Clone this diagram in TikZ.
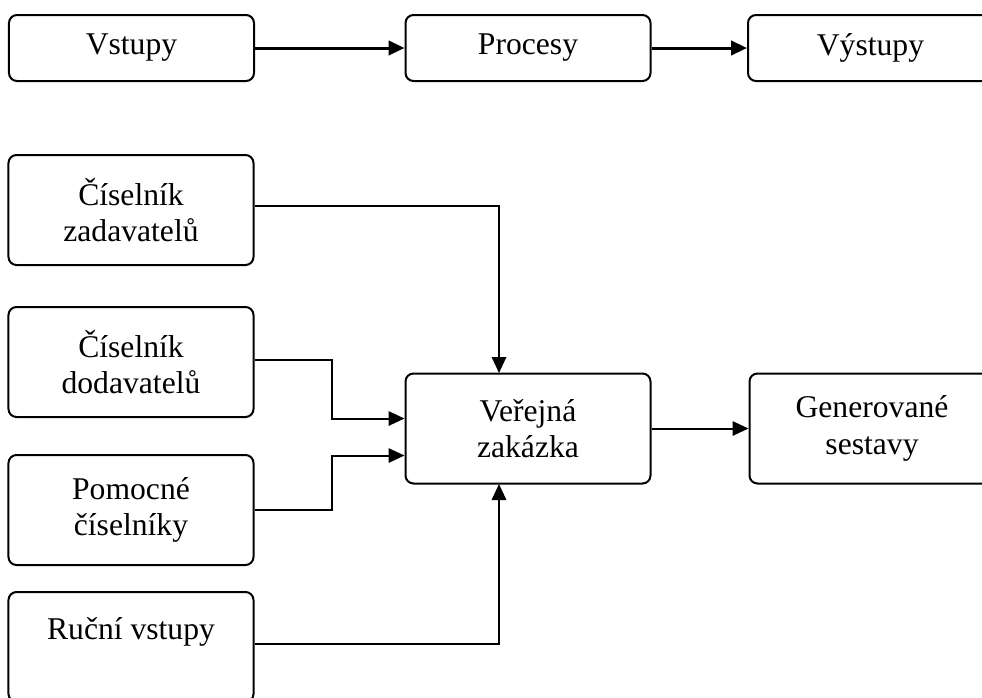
\documentclass[tikz,border=0pt]{standalone}
\usepackage{fontspec}
\setmainfont{Liberation Serif}
\usetikzlibrary{arrows.meta}

\begin{document}
\begin{tikzpicture}[x=0.25mm, y=-0.25mm,
		box/.style={draw, line width=0.5mm, rounded corners=2mm, inner sep=0pt,
			minimum width=61.25mm, align=center,
			font=\fontsize{22.5pt}{26pt}\selectfont},
		flatbox/.style={box, minimum height=16.5mm},
		tallbox/.style={box, minimum height=27.5mm},
		tip/.style={-{Triangle[length=4mm, width=3.6mm]}},
		link/.style={tip, line width=0.5mm},
		thicklink/.style={tip, line width=0.75mm}]
	\useasboundingbox (0, 0) rectangle (982, 697);
	\clip (0, 0) rectangle (982, 697);
	% horni rada
	\node[flatbox] (vstupy) at (131.5, 48){Vstupy};
	\node[flatbox] (procesy) at (528, 48){Procesy};
	\node[flatbox] (vystupy) at (870.5, 48){Výstupy};
	\draw[thicklink] (vstupy.east) -- (procesy.west);
	\draw[thicklink] (procesy.east) -- (vystupy.west);
	% vstupy do zakazky
	\node[tallbox] (zadavatele) at (131, 210){Číselník\\zadavatelů};
	\node[tallbox] (dodavatele) at (131, 362){Číselník\\dodavatelů};
	\node[tallbox] (pomocne) at (131, 510){Pomocné\\číselníky};
	\node[tallbox] (rucni) at (131, 647){Ruční vstupy\\\mbox{}};
	\node[tallbox] (zakazka) at (528, 428.5){Veřejná\\zakázka};
	\node[tallbox] (sestavy) at (872, 428.5){Generované\\sestavy};
		\coordinate (zakazkatop) at (499, 373);
		\coordinate (zakazkabot) at (499, 484);
	\draw[link] ([yshift=1mm]zadavatele.east) -| (zakazkatop);
	\draw[link] ([yshift=0.5mm]dodavatele.east) -- ++(77, 0) |- ([yshift=2.5mm]zakazka.west);
	\draw[link] (pomocne.east) -- ++(77, 0) |- ([yshift=-6.75mm]zakazka.west);
	\draw[link] ([yshift=0.75mm]rucni.east) -| (zakazkabot);
	\draw[link] (zakazka.east) -- (sestavy.west);
\end{tikzpicture}
\end{document}
